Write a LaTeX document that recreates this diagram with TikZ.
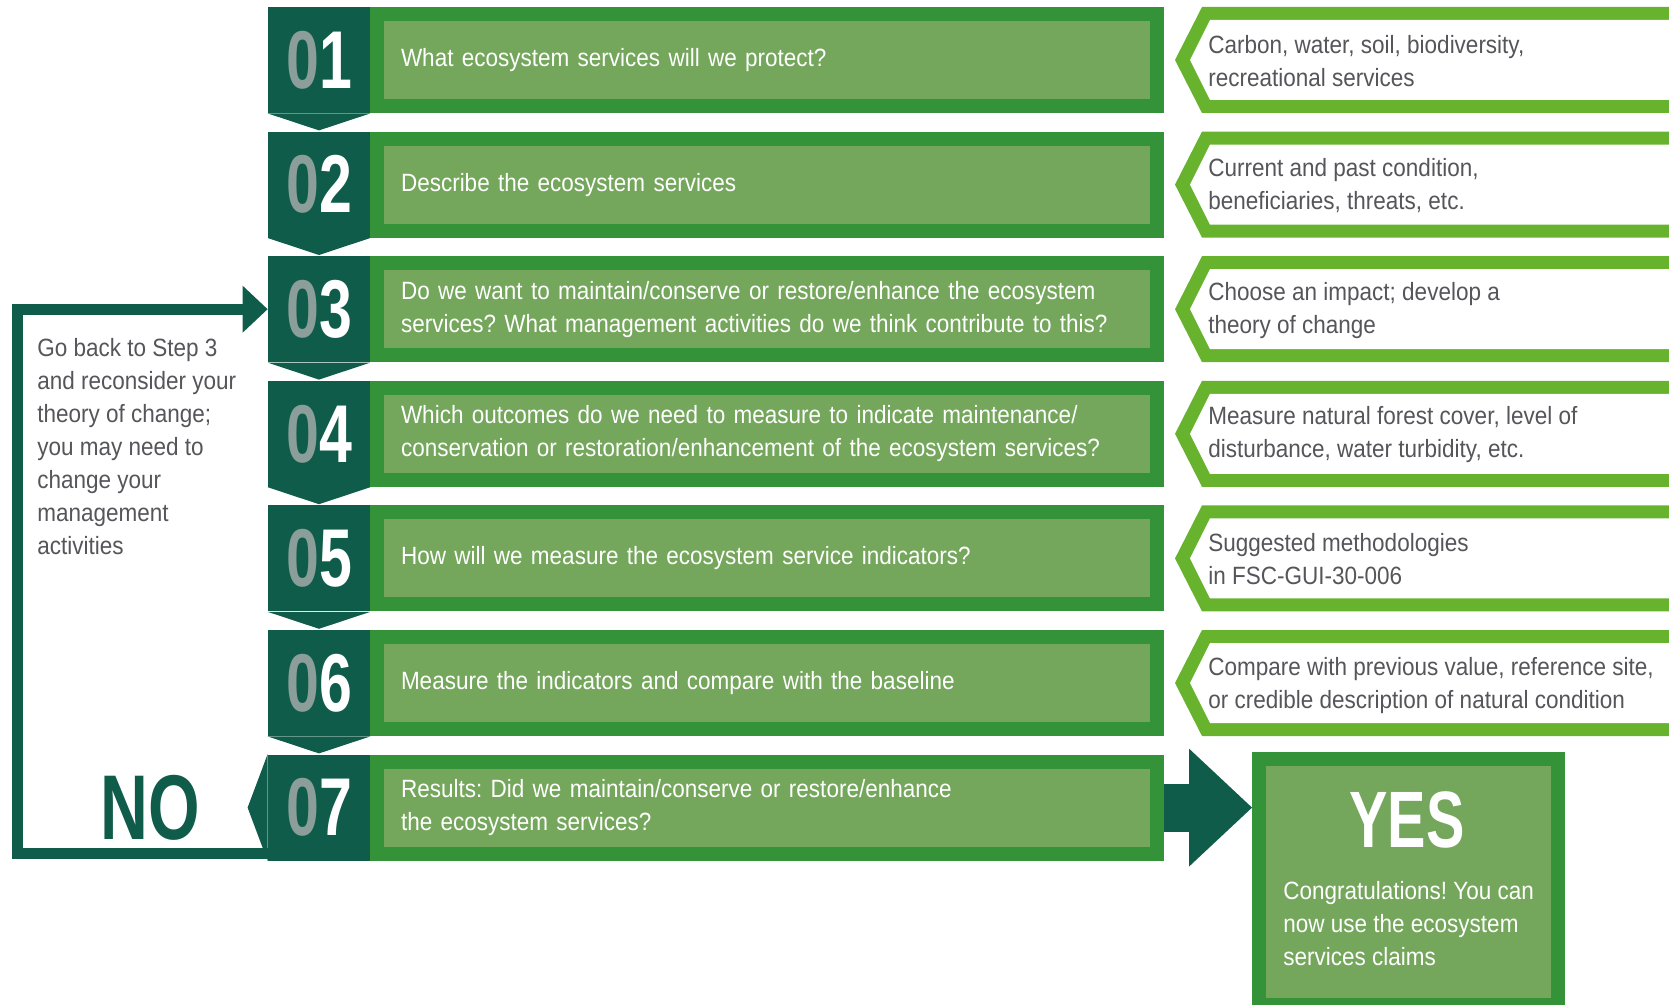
\documentclass[tikz,border=0pt]{standalone}
\usepackage{fontspec}
\setmainfont{Liberation Sans}[FakeStretch=0.9]
\newfontfamily\numfont{Liberation Sans}[FakeStretch=0.72]
\usepackage{xcolor}
\usepackage{tikz}
\usetikzlibrary{arrows.meta,positioning}
\frenchspacing

\definecolor{tabgreen}{RGB}{16,92,74}
\definecolor{stepgreen}{RGB}{52,146,56}
\definecolor{steplight}{RGB}{116,166,92}
\definecolor{brgreen}{RGB}{103,179,46}
\definecolor{numgray}{RGB}{140,158,154}
\definecolor{notegray}{RGB}{85,85,90}

\tikzset{
  numtab/.style={fill=tabgreen, minimum width=51pt, minimum height=53pt, inner sep=0pt,
    text=white, font=\numfont\bfseries\fontsize{41}{41}\selectfont},
  stepbox/.style={draw=stepgreen, fill=steplight, line width=7pt, minimum height=46pt,
    text width=366pt, inner xsep=12pt, align=left, text=white,
    font=\fontsize{12.5}{16.5}\selectfont},
  notetxt/.style={anchor=west, inner sep=0pt, align=left, text=notegray,
    font=\fontsize{12.5}{16.5}\selectfont},
  bigtxt/.style={inner sep=0pt, font=\numfont\bfseries\fontsize{46}{46}\selectfont},
  yesbox/.style={draw=stepgreen, fill=steplight, line width=7pt, minimum width=149.5pt,
    minimum height=123pt, anchor=north},
  backarrow/.style={draw=tabgreen, line width=5.5pt,
    -{Triangle[length=12.5pt,width=23.5pt,line width=0pt]}},
  bigarrow/.style={draw=tabgreen, line width=24pt,
    -{Triangle[length=31.5pt,width=59pt,line width=0pt]}}
}

\begin{document}
\begin{tikzpicture}[x=0.5pt,y=-0.5pt]
    \useasboundingbox (0,0) rectangle (1669,1005);
    \clip (0,0) rectangle (1669,1005);

    % number tabs
    \foreach \i in {1,...,7}
      \node[numtab] (t\i) at (319,{60+124.6*(\i-1)}) {{\color{numgray}0}\i};
    \foreach \i in {1,...,6}
      \fill[tabgreen] (t\i.south west) -- ([yshift=-8.5pt]t\i.south) -- (t\i.south east) -- cycle;
    \fill[tabgreen] (t7.north west) -- ([xshift=-10pt]t7.west) -- (t7.south west) -- cycle;

    % steps
    \node[stepbox] (s1) at (767,60) {What ecosystem services will we protect?};
    \node[stepbox] (s2) at (767,184.6) {Describe the ecosystem services};
    \node[stepbox] (s3) at (767,309.2) {Do we want to maintain/conserve or restore/enhance the ecosystem\\services? What management activities do we think contribute to this?};
    \node[stepbox] (s4) at (767,433.8) {Which outcomes do we need to measure to indicate maintenance/\\conservation or restoration/enhancement of the ecosystem services?};
    \node[stepbox] (s5) at (767,558.4) {How will we measure the ecosystem service indicators?};
    \node[stepbox] (s6) at (767,683) {Measure the indicators and compare with the baseline};
    \node[stepbox] (s7) at (767,807.6) {Results: Did we maintain/conserve or restore/enhance\\the ecosystem services?};

    % notes on the right
    \foreach \y in {60,184.6,309.2,433.8,558.4,683} {
      \fill[brgreen] (1700,{\y-53}) -- (1202,{\y-53}) -- (1175,\y) -- (1202,{\y+53}) -- (1700,{\y+53}) -- cycle;
      \fill[white] (1700,{\y-40}) -- (1210,{\y-40}) -- (1190,\y) -- (1210,{\y+40}) -- (1700,{\y+40}) -- cycle;
    }
    \node[notetxt] (n1) at (1208,61) {Carbon, water, soil, biodiversity,\\recreational services};
    \node[notetxt] (n2) at (1208,185.6) {Current and past condition,\\beneficiaries, threats, etc.};
    \node[notetxt] (n3) at (1208,310.2) {Choose an impact; develop a\\theory of change};
    \node[notetxt] (n4) at (1208,434.8) {Measure natural forest cover, level of\\disturbance, water turbidity, etc.};
    \node[notetxt] (n5) at (1208,559.4) {Suggested methodologies\\in FSC-GUI-30-006};
    \node[notetxt] (n6) at (1208,686) {Compare with previous value, reference site,\\or credible description of natural condition};

    % no: back to step 3
    \node[notetxt, anchor=north west] (back) at (37,338) {Go back to Step 3\\and reconsider your\\theory of change;\\you may need to\\change your\\management\\activities};
    \node[bigtxt, text=tabgreen] (no) at (150,808) {NO};
    \draw[backarrow] ([yshift=4pt]t7.south west) -| ([xshift=-125pt]t3.west) -- (t3.west);

    % yes
    \node[yesbox] (yes) at (1408.5,752) {};
    \node[bigtxt, text=white, font=\numfont\bfseries\fontsize{40}{40}\selectfont] (yestxt) at (1407,820) {YES};
    \node[notetxt, text=white] (congr) at (1283,924) {Congratulations! You can\\now use the ecosystem\\services claims};
    \draw[bigarrow] (s7.east) -- (s7.east -| yes.west);
\end{tikzpicture}
\end{document}
